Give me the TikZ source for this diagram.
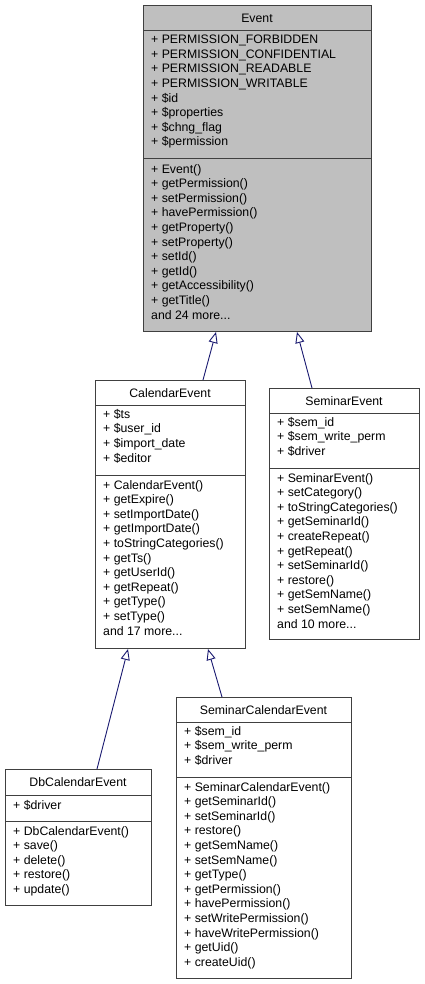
\documentclass[tikz,border=0pt]{standalone}
\usepackage{fontspec}
\setmainfont{Liberation Sans}
\usetikzlibrary{arrows.meta,calc}
\definecolor{navy}{HTML}{191970}
\definecolor{evgray}{HTML}{BFBFBF}
\begin{document}
\begin{tikzpicture}[x=1pt,y=-1pt,
  box/.style={draw=black!75,line width=1pt,rectangle,inner sep=0pt,anchor=north west},
  sep/.style={draw=black!75,line width=1pt},
  txt/.style={anchor=north west,inner sep=0pt,align=left,font=\fontsize{12.3}{14.6}\selectfont},
  ttl/.style={anchor=center,inner sep=0pt,font=\fontsize{12.3}{14.6}\selectfont},
  inh/.style={draw=navy,line width=0.9pt,-{Triangle[open,length=11pt,width=9pt]}}]
\useasboundingbox (0,0) rectangle (425,984);
% Event
\node[box,fill=evgray,minimum width=228pt,minimum height=326pt] (event) at (143,5) {};
\draw[sep] (143,31) -- (371,31);
\draw[sep] (143,159) -- (371,159);
\node[ttl] (evt) at (257,18) {Event};
\node[txt] (eva) at (151,35) {+ PERMISSION\_FORBIDDEN\\+ PERMISSION\_CONFIDENTIAL\\+ PERMISSION\_READABLE\\+ PERMISSION\_WRITABLE\\+ \$id\\+ \$properties\\+ \$chng\_flag\\+ \$permission};
\node[txt] (evm) at (151,164) {+ Event()\\+ getPermission()\\+ setPermission()\\+ havePermission()\\+ getProperty()\\+ setProperty()\\+ setId()\\+ getId()\\+ getAccessibility()\\+ getTitle()\\and 24 more...};
% CalendarEvent
\node[box,fill=white,minimum width=150pt,minimum height=268pt] (cal) at (95,380) {};
\draw[sep] (95,405) -- (245,405);
\draw[sep] (95,475) -- (245,475);
\node[ttl] (calt) at (170,393) {CalendarEvent};
\node[txt] (cala) at (103,409) {+ \$ts\\+ \$user\_id\\+ \$import\_date\\+ \$editor};
\node[txt] (calm) at (103,480) {+ CalendarEvent()\\+ getExpire()\\+ setImportDate()\\+ getImportDate()\\+ toStringCategories()\\+ getTs()\\+ getUserId()\\+ getRepeat()\\+ getType()\\+ setType()\\and 17 more...};
% SeminarEvent
\node[box,fill=white,minimum width=150pt,minimum height=251pt] (sem) at (269,388) {};
\draw[sep] (269,413) -- (419,413);
\draw[sep] (269,468) -- (419,468);
\node[ttl] (semt) at (344,401) {SeminarEvent};
\node[txt] (sema) at (277,417) {+ \$sem\_id\\+ \$sem\_write\_perm\\+ \$driver};
\node[txt] (semm) at (277,473) {+ SeminarEvent()\\+ setCategory()\\+ toStringCategories()\\+ getSeminarId()\\+ createRepeat()\\+ getRepeat()\\+ setSeminarId()\\+ restore()\\+ getSemName()\\+ setSemName()\\and 10 more...};
% DbCalendarEvent
\node[box,fill=white,minimum width=146pt,minimum height=136pt] (db) at (5,769) {};
\draw[sep] (5,795) -- (151,795);
\draw[sep] (5,821) -- (151,821);
\node[ttl] (dbt) at (78,782) {DbCalendarEvent};
\node[txt] (dba) at (13,800) {+ \$driver};
\node[txt] (dbm) at (13,826) {+ DbCalendarEvent()\\+ save()\\+ delete()\\+ restore()\\+ update()};
% SeminarCalendarEvent
\node[box,fill=white,minimum width=175pt,minimum height=281pt] (sce) at (176,697) {};
\draw[sep] (176,722) -- (351,722);
\draw[sep] (176,777) -- (351,777);
\node[ttl] (scet) at (263.5,710) {SeminarCalendarEvent};
\node[txt] (scea) at (184,726) {+ \$sem\_id\\+ \$sem\_write\_perm\\+ \$driver};
\node[txt] (scem) at (184,782) {+ SeminarCalendarEvent()\\+ getSeminarId()\\+ setSeminarId()\\+ restore()\\+ getSemName()\\+ setSemName()\\+ getType()\\+ getPermission()\\+ havePermission()\\+ setWritePermission()\\+ haveWritePermission()\\+ getUid()\\+ createUid()};
% inheritance
\draw[inh] ([xshift=108pt]cal.north west) -- ([xshift=73pt]event.south west);
\draw[inh] ([xshift=43pt]sem.north west) -- ([xshift=154pt]event.south west);
\draw[inh] ([xshift=92pt]db.north west) -- ([xshift=33pt]cal.south west);
\draw[inh] ([xshift=46pt]sce.north west) -- ([xshift=113pt]cal.south west);
\end{tikzpicture}
\end{document}
